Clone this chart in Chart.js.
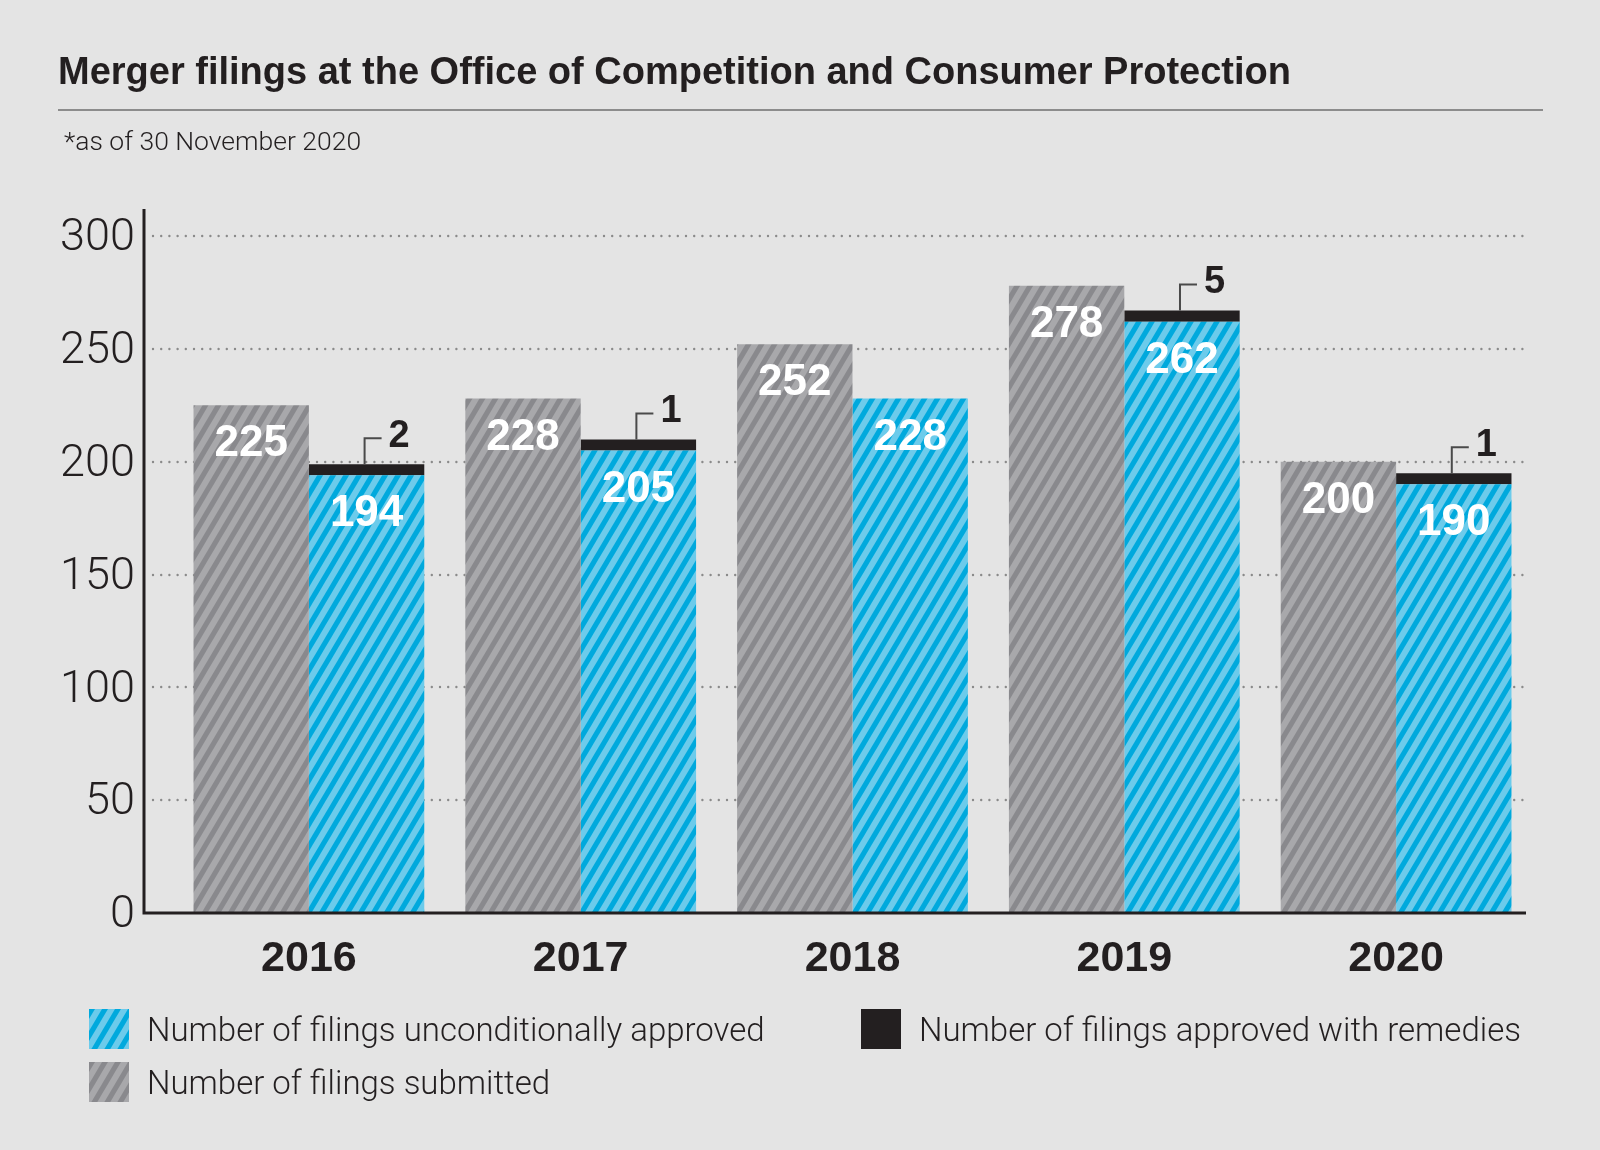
<!DOCTYPE html>
<html>
<head>
<meta charset="utf-8">
<title>Merger filings</title>
<script src="https://cdn.jsdelivr.net/npm/chart.js@4.4.1/dist/chart.umd.min.js"></script>
<style>
  html, body { margin: 0; padding: 0; background: #e4e4e4; }
  #page { position: relative; width: 1600px; height: 1150px; overflow: hidden; color: #231f20; }
  #chart { position: absolute; left: 0; top: 0; }
  .title { position: absolute; left: 58px; top: 50px; font: bold 38px/42px "Liberation Sans", Arial, sans-serif; white-space: nowrap; }
  .rule { position: absolute; left: 58px; top: 109px; width: 1485px; height: 2px; background: #8c8c8c; }
  .sub { position: absolute; left: 64px; top: 126px; font: 300 26.5px/30px Roboto, sans-serif; white-space: nowrap; }
  .swatch { position: absolute; width: 40px; height: 40px; }
  .lg { position: absolute; font: 300 33px/40px Roboto, sans-serif; white-space: nowrap; }
</style>
</head>
<body>
<div id="page">
  <canvas id="chart" width="1600" height="1150"></canvas>
  <div class="title">Merger filings at the Office of Competition and Consumer Protection</div>
  <div class="rule"></div>
  <div class="sub">*as of 30 November 2020</div>

  <canvas class="swatch" id="swApproved" width="40" height="40" style="left:89px; top:1009px;"></canvas>
  <div class="lg" style="left:147px; top:1010px;">Number of filings unconditionally approved</div>
  <canvas class="swatch" id="swSubmitted" width="40" height="40" style="left:89px; top:1062px;"></canvas>
  <div class="lg" style="left:147px; top:1063px;">Number of filings submitted</div>
  <canvas class="swatch" id="swRemedies" width="40" height="40" style="left:861px; top:1009px;"></canvas>
  <div class="lg" style="left:919px; top:1010px;">Number of filings approved with remedies</div>
</div>

<script>
// data
const years = ['2016', '2017', '2018', '2019', '2020'];
const submitted = [225, 228, 252, 278, 200];
const approved = [194, 205, 228, 262, 190];
const remedies = [2, 1, null, 5, 1];
const yTicks = [0, 50, 100, 150, 200, 250, 300];

const INK = '#231f20';
const BOLD = '"Liberation Sans", Arial, sans-serif';

// diagonal hatch tile, stripes rising to the right
function makeStripes(light, dark) {
    const w = 13, h = 22, sw = w * 0.46;
    const tile = document.createElement('canvas');
    tile.width = w;
    tile.height = h;
    const g = tile.getContext('2d');
    g.fillStyle = light;
    g.fillRect(0, 0, w, h);
    g.fillStyle = dark;
    for (const o of [-w, 0, w]) {
        g.beginPath();
        g.moveTo(o, h);
        g.lineTo(o + sw, h);
        g.lineTo(o + sw + w, 0);
        g.lineTo(o + w, 0);
        g.closePath();
        g.fill();
    }
    return tile;
}

const ctx = document.getElementById('chart').getContext('2d');
const grayTile = makeStripes('#a8a8ab', '#89898d');
const blueTile = makeStripes('#6ccbeb', '#00a9dd');
const grayPattern = ctx.createPattern(grayTile, 'repeat');
const bluePattern = ctx.createPattern(blueTile, 'repeat');

function fillSwatch(id, fill) {
    const c = document.getElementById(id).getContext('2d');
    c.fillStyle = typeof fill === 'string' ? fill : c.createPattern(fill, 'repeat');
    c.fillRect(0, 0, 40, 40);
}
fillSwatch('swApproved', blueTile);
fillSwatch('swSubmitted', grayTile);
fillSwatch('swRemedies', INK);

// dotted grid behind the bars, axis lines on top
const axesPlugin = {
    id: 'axesLines',
    beforeDatasetsDraw(chart) {
        const { ctx, chartArea } = chart;
        const y = chart.scales.y;
        ctx.save();
        ctx.strokeStyle = '#8a8a8a';
        ctx.lineWidth = 2.4;
        ctx.lineCap = 'round';
        ctx.setLineDash([0, 8.2]);
        yTicks.forEach(v => {
            if (v === 0) return;
            const py = Math.round(y.getPixelForValue(v));
            ctx.beginPath();
            ctx.moveTo(chartArea.left - 20, py);
            ctx.lineTo(chartArea.right - 4, py);
            ctx.stroke();
        });
        ctx.restore();
    },
    afterDatasetsDraw(chart) {
        const { ctx, chartArea } = chart;
        const y = chart.scales.y;
        const ax = chartArea.left - 29;
        const top = y.getPixelForValue(yTicks[yTicks.length - 1]) - 27;
        const base = y.getPixelForValue(0);
        ctx.save();
        ctx.strokeStyle = INK;
        ctx.lineWidth = 3;
        ctx.beginPath();
        ctx.moveTo(ax, top);
        ctx.lineTo(ax, base);
        ctx.lineTo(chartArea.right - 6, base);
        ctx.stroke();
        ctx.restore();
    }
};

// white numbers inside bars, call-outs for the remedies
const labelPlugin = {
    id: 'barLabels',
    afterDatasetsDraw(chart) {
        const { ctx } = chart;
        ctx.save();
        [0, 1].forEach(di => {
            const data = chart.data.datasets[di].data;
            chart.getDatasetMeta(di).data.forEach((bar, i) => {
                ctx.fillStyle = '#ffffff';
                ctx.font = 'bold 44px ' + BOLD;
                ctx.textAlign = 'center';
                ctx.textBaseline = 'middle';
                ctx.fillText(String(data[i]), bar.x, bar.y + 39);
            });
        });
        const rem = chart.data.datasets[2].data;
        chart.getDatasetMeta(2).data.forEach((bar, i) => {
            if (rem[i] === null) return;
            const lx = bar.x - 2;
            const ly = bar.y - 26;
            ctx.strokeStyle = '#4a4a4a';
            ctx.lineWidth = 2;
            ctx.beginPath();
            ctx.moveTo(lx, bar.y);
            ctx.lineTo(lx, ly);
            ctx.lineTo(bar.x + 15, ly);
            ctx.stroke();
            ctx.fillStyle = INK;
            ctx.font = 'bold 38px ' + BOLD;
            ctx.textAlign = 'left';
            ctx.textBaseline = 'middle';
            ctx.fillText(String(rem[i]), bar.x + 22, ly - 2);
        });
        ctx.restore();
    }
};

new Chart(ctx, {
    type: 'bar',
    data: {
        labels: years,
        datasets: [
            {
                label: 'Number of filings submitted',
                data: submitted,
                stack: 'submitted',
                backgroundColor: grayPattern,
                borderWidth: 0
            },
            {
                label: 'Number of filings unconditionally approved',
                data: approved,
                stack: 'approved',
                backgroundColor: bluePattern,
                borderWidth: 0
            },
            {
                label: 'Number of filings approved with remedies',
                data: remedies,
                stack: 'approved',
                backgroundColor: INK,
                borderWidth: 0,
                minBarLength: 11
            }
        ]
    },
    options: {
        responsive: false,
        animation: false,
        devicePixelRatio: 1,
        events: [],
        layout: { padding: { left: 0, right: 68, top: 236, bottom: 150 } },
        datasets: { bar: { barPercentage: 1, categoryPercentage: 0.849 } },
        scales: {
            x: {
                grid: { display: false, drawTicks: false },
                border: { display: false },
                ticks: {
                    color: INK,
                    padding: 20,
                    font: { family: BOLD, size: 43, weight: 'bold' }
                },
                afterFit(scale) { scale.height = 87; }
            },
            y: {
                stacked: true,
                min: 0,
                max: 300,
                grid: { display: false, drawTicks: false },
                border: { display: false },
                afterBuildTicks(scale) { scale.ticks = yTicks.map(v => ({ value: v })); },
                ticks: {
                    color: INK,
                    padding: 38,
                    labelOffset: 3,
                    font: { family: 'Roboto', size: 45, weight: '300' }
                },
                afterFit(scale) { scale.width = 173; }
            }
        },
        plugins: {
            legend: { display: false },
            title: { display: false },
            tooltip: { enabled: false }
        }
    },
    plugins: [axesPlugin, labelPlugin]
});
</script>
</body>
</html>
